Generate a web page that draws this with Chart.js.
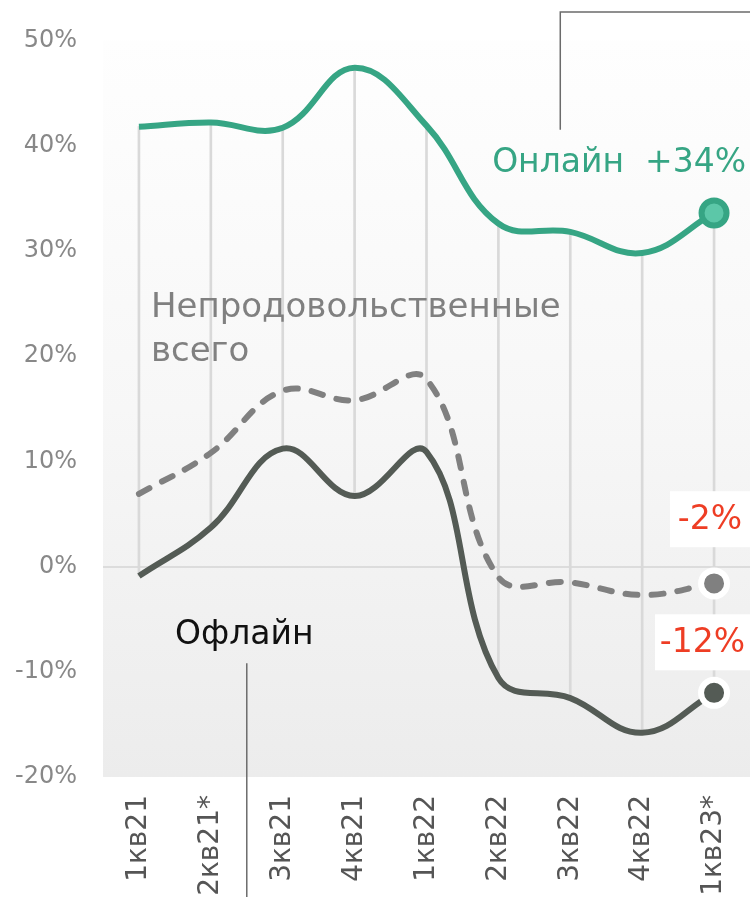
<!DOCTYPE html>
<html>
<head>
<meta charset="utf-8">
<script src="https://cdn.jsdelivr.net/npm/chart.js@4"></script>
<style>
  html, body { margin: 0; padding: 0; background: #fff; overflow: hidden; }
  #wrap { width: 750px; height: 897px; }
</style>
</head>
<body>
<div id="wrap"><canvas id="chart-1"></canvas></div>
<script>
var quarters = ["1кв21", "2кв21*", "3кв21", "4кв21", "1кв22", "2кв22", "3кв22", "4кв22", "1кв23*"];
var online = [41.8, 42.2, 41.7, 47.4, 41.9, 32.6, 31.8, 29.8, 33.6];
var nonfood = [6.9, 10.8, 16.7, 15.8, 17.8, -1.0, -1.5, -2.7, -1.6];
var offline = [-0.9, 3.7, 11.2, 6.7, 10.9, -10.6, -12.5, -15.8, -12.0];
var yTicks = [-20, -10, 0, 10, 20, 30, 40, 50];

var green = "#36a584";
var grey = "#808080";
var dark = "#545b55";
var red = "#ee3d24";
var FONT = "'DejaVu Sans', sans-serif";

var last = quarters.length - 1;
function endOnly(v) {
  return quarters.map(function (q, i) { return i === last ? v : 0; });
}

// vertical lines between offline and online values
var spans = online.map(function (v, i) { return [offline[i], v]; });

var bgPlugin = {
  id: "bg",
  beforeDraw: function (chart) {
    var a = chart.chartArea, ctx = chart.ctx;
    var g = ctx.createLinearGradient(0, a.top, 0, a.bottom);
    g.addColorStop(0, "#fefefe");
    g.addColorStop(0.5, "#f7f7f7");
    g.addColorStop(1, "#ececec");
    ctx.save();
    ctx.fillStyle = g;
    ctx.fillRect(a.left, a.top, a.right - a.left, a.bottom - a.top);
    ctx.restore();
  }
};

var notesPlugin = {
  id: "notes",
  afterDraw: function (chart) {
    var ctx = chart.ctx, x = chart.scales.x, y = chart.scales.y, a = chart.chartArea;
    ctx.save();
    // leader lines
    ctx.strokeStyle = "#6b6b6b";
    ctx.lineWidth = 1.5;
    var lx = x.getPixelForValue(6) - 10;
    ctx.beginPath();
    ctx.moveTo(a.right, 12);
    ctx.lineTo(lx, 12);
    ctx.lineTo(lx, y.getPixelForValue(41.5));
    ctx.stroke();
    var ox = (x.getPixelForValue(1) + x.getPixelForValue(2)) / 2;
    ctx.beginPath();
    ctx.moveTo(ox, y.getPixelForValue(-9.2));
    ctx.lineTo(ox, chart.height + 5);
    ctx.stroke();

    ctx.textBaseline = "alphabetic";
    // online label
    ctx.font = "33px " + FONT;
    ctx.fillStyle = green;
    ctx.textAlign = "right";
    ctx.fillText("Онлайн  +" + Math.round(online[last]) + "%", a.right - 4, y.getPixelForValue(37.5));

    // nonfood label
    ctx.font = "34px " + FONT;
    ctx.textAlign = "left";
    ctx.fillStyle = grey;
    ctx.fillText("Непродовольственные", x.getPixelForValue(0) + 12, y.getPixelForValue(23.7));
    ctx.fillText("всего", x.getPixelForValue(0) + 12, y.getPixelForValue(19.5));

    // offline label
    ctx.font = "33px " + FONT;
    ctx.fillStyle = "#111";
    ctx.fillText("Офлайн", x.getPixelForValue(0) + 36, y.getPixelForValue(-7.4));

    // value boxes
    function box(text, cy, w) {
      var py = y.getPixelForValue(cy);
      ctx.fillStyle = "#fff";
      ctx.fillRect(a.right - w, py - 28, w, 56);
      ctx.fillStyle = red;
      ctx.textAlign = "center";
      ctx.textBaseline = "middle";
      ctx.fillText(text, a.right - w / 2, py + 1);
    }
    box(Math.round(nonfood[last]) + "%", 4.5, 80);
    box(Math.round(offline[last]) + "%", -7.2, 95);
    ctx.restore();
  }
};

new Chart(document.getElementById("chart-1"), {
  type: "line",
  data: {
    labels: quarters,
    datasets: [
      {
        label: "Онлайн",
        data: online,
        borderColor: green,
        borderWidth: 6,
        tension: 0.4,
        pointRadius: endOnly(12.5),
        pointBackgroundColor: "#5cc7a8",
        pointBorderColor: green,
        pointBorderWidth: 6,
        order: 1
      },
      {
        label: "Непродовольственные всего",
        data: nonfood,
        borderColor: grey,
        borderWidth: 6,
        borderDash: [12, 14],
        borderCapStyle: "round",
        tension: 0.4,
        pointRadius: endOnly(13),
        pointBackgroundColor: grey,
        pointBorderColor: "#fff",
        pointBorderWidth: 6,
        order: 2
      },
      {
        label: "Офлайн",
        data: offline,
        borderColor: dark,
        borderWidth: 6,
        tension: 0.4,
        pointRadius: endOnly(13),
        pointBackgroundColor: dark,
        pointBorderColor: "#fff",
        pointBorderWidth: 6,
        order: 3
      },
      {
        type: "bar",
        label: "range",
        data: spans,
        backgroundColor: "#d9d9d9",
        barThickness: 2,
        order: 10
      }
    ]
  },
  options: {
    responsive: true,
    maintainAspectRatio: false,
    animation: false,
    layout: { autoPadding: false, padding: { top: 40, right: 0, left: 0, bottom: 0 } },
    plugins: {
      legend: { display: false },
      tooltip: { enabled: false }
    },
    scales: {
      x: {
        offset: true,
        grid: { display: false, drawTicks: false },
        border: { display: false },
        ticks: {
          color: "#555",
          font: { family: FONT, size: 28 },
          minRotation: 90,
          maxRotation: 90,
          padding: 18,
          autoSkip: false
        },
        afterFit: function (s) {
          s.height = 120;
          s.paddingLeft = 0;
          s.paddingRight = 0;
        }
      },
      y: {
        min: -20,
        max: 50,
        afterBuildTicks: function (s) {
          s.ticks = yTicks.map(function (v) { return { value: v }; });
        },
        grid: {
          drawTicks: false,
          lineWidth: 2,
          color: function (c) { return c.tick && c.tick.value === 0 ? "#dcdcdc" : "transparent"; }
        },
        border: { display: false },
        ticks: {
          color: "#888",
          font: { family: FONT, size: 24 },
          padding: 26,
          callback: function (v) { return v + "%"; }
        },
        afterFit: function (s) { s.width = 103; }
      }
    }
  },
  plugins: [bgPlugin, notesPlugin]
});
</script>
</body>
</html>
